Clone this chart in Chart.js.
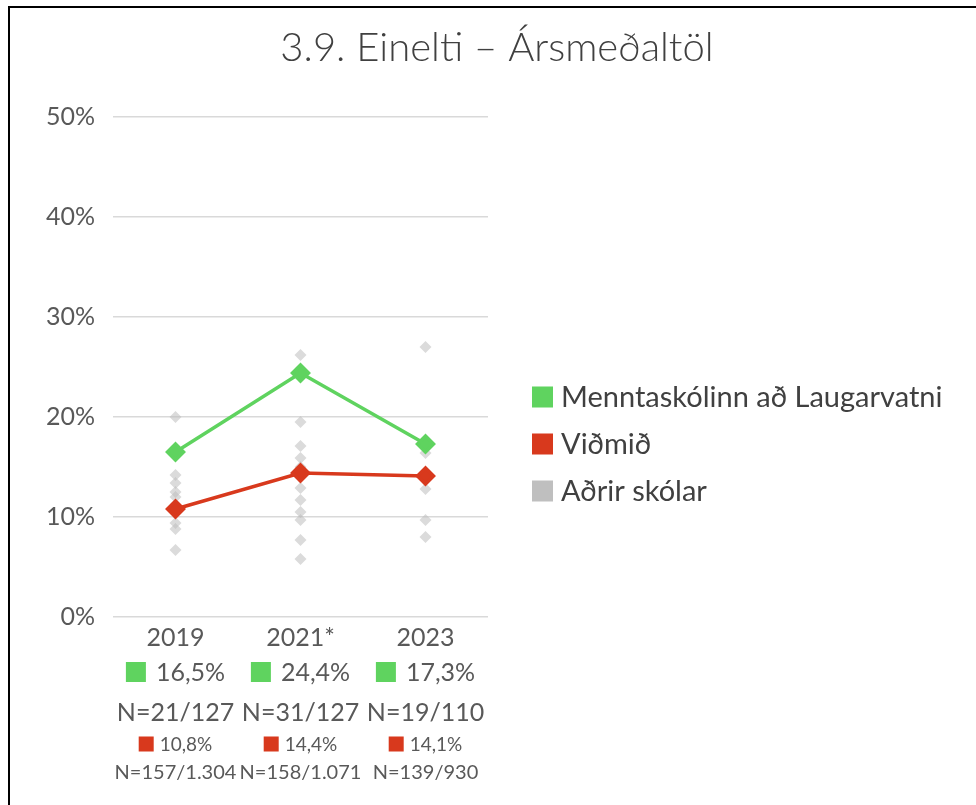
<!DOCTYPE html>
<html>
<head>
<meta charset="utf-8">
<script src="https://cdn.jsdelivr.net/npm/chart.js@4.4.1/dist/chart.umd.min.js"></script>
<style>
    body { margin: 0; background: #fff; }
    #frame {
        position: absolute; left: 8px; top: 6px; width: 968px; height: 799px;
        border-left: 2px solid #000; border-top: 2px solid #000;
    }
    #chart { position: absolute; left: 10px; top: 8px; }
</style>
</head>
<body>
<div id="frame"></div>
<canvas id="chart" width="966" height="797"></canvas>
<script>
// ---------------- DATA ----------------
const years = ["2019", "2021*", "2023"];
const schoolValues = [16.5, 24.4, 17.3];
const benchmarkValues = [10.8, 14.4, 14.1];
const others2019 = [20.0, 14.2, 13.4, 12.5, 12.0, 9.4, 8.8, 6.7];
const others2021 = [26.2, 19.5, 17.1, 15.9, 15.0, 12.9, 11.7, 10.5, 9.7, 7.7, 5.8];
const others2023 = [27.0, 16.4, 12.8, 9.7, 8.0];
const schoolLabels = ["16,5%", "24,4%", "17,3%"];
const schoolN = ["N=21/127", "N=31/127", "N=19/110"];
const benchmarkLabels = ["10,8%", "14,4%", "14,1%"];
const benchmarkN = ["N=157/1.304", "N=158/1.071", "N=139/930"];
const yTicks = [0, 10, 20, 30, 40, 50];

const GREEN = "#5fd35f";
const RED = "#d8391d";
const GRAY = "#bfbfbf";
const TEXT = "#595959";
const FONT = "Lato, 'Open Sans', sans-serif";

const otherPoints = [];
[others2019, others2021, others2023].forEach((list, i) => {
    list.forEach(v => otherPoints.push({ x: years[i], y: v }));
});

// ---------------- EXTRA ROWS UNDER X AXIS + LEGEND ----------------
const extrasPlugin = {
    id: "extras",
    afterDraw(chart) {
        const ctx = chart.ctx;
        const xs = chart.scales.x;
        const area = chart.chartArea;
        ctx.save();
        ctx.textBaseline = "middle";
        ctx.fillStyle = TEXT;

        function swatchRow(text, cx, y, color, box, gap, size) {
            ctx.font = size + "px " + FONT;
            const w = box + gap + ctx.measureText(text).width;
            const left = cx - w / 2;
            ctx.fillStyle = color;
            ctx.fillRect(left, y - box / 2, box, box);
            ctx.fillStyle = TEXT;
            ctx.textAlign = "left";
            ctx.fillText(text, left + box + gap, y + 1);
        }

        years.forEach((y, i) => {
            const cx = xs.getPixelForValue(i);
            swatchRow(schoolLabels[i], cx, area.bottom + 55, GREEN, 20, 10, 25);
            ctx.font = "25px " + FONT;
            ctx.textAlign = "center";
            ctx.fillText(schoolN[i], cx, area.bottom + 96);
            swatchRow(benchmarkLabels[i], cx, area.bottom + 127, RED, 15, 6, 19);
            ctx.font = "20px " + FONT;
            ctx.textAlign = "center";
            ctx.fillText(benchmarkN[i], cx, area.bottom + 156);
        });

        // legend
        const lx = area.right + 44;
        const ly = [area.top + 280, area.top + 327, area.top + 374];
        ctx.font = "29px " + FONT;
        ctx.textAlign = "left";
        chart.data.datasets.forEach((ds, i) => {
            ctx.fillStyle = ds.legendColor;
            ctx.fillRect(lx, ly[i] - 10.5, 21, 21);
            ctx.fillStyle = "#404040";
            ctx.fillText(ds.label, lx + 29, ly[i] + 1);
        });
        ctx.restore();
    }
};

new Chart(document.getElementById("chart"), {
    type: "line",
    data: {
        labels: years,
        datasets: [{
            label: "Menntaskólinn að Laugarvatni",
            data: schoolValues,
            borderColor: GREEN,
            backgroundColor: GREEN,
            legendColor: GREEN,
            borderWidth: 3.5,
            pointStyle: "rectRot",
            pointRadius: 8,
            order: 1
        }, {
            label: "Viðmið",
            data: benchmarkValues,
            borderColor: RED,
            backgroundColor: RED,
            legendColor: RED,
            borderWidth: 3.5,
            pointStyle: "rectRot",
            pointRadius: 8,
            order: 2
        }, {
            label: "Aðrir skólar",
            data: otherPoints,
            showLine: false,
            backgroundColor: "rgba(190,190,190,0.55)",
            borderWidth: 0,
            legendColor: GRAY,
            pointStyle: "rectRot",
            pointRadius: 6,
            order: 3
        }]
    },
    options: {
        responsive: false,
        animation: false,
        devicePixelRatio: 1,
        layout: { padding: { left: 8 } },
        plugins: {
            legend: { display: false },
            tooltip: { enabled: false },
            title: {
                display: true,
                text: "3.9. Einelti – Ársmeðaltöl",
                color: "#404040",
                font: { family: FONT, size: 40, weight: "300" },
                padding: { top: 16, bottom: 45 }
            }
        },
        scales: {
            x: {
                offset: true,
                grid: { display: false },
                border: { display: false },
                ticks: { color: TEXT, font: { family: FONT, size: 25 }, padding: -2 },
                afterFit(scale) { scale.height = 188; }
            },
            y: {
                min: 0,
                max: 50,
                afterBuildTicks(scale) { scale.ticks = yTicks.map(v => ({ value: v })); },
                grid: { color: "#d9d9d9", lineWidth: 1.5, drawTicks: false },
                border: { display: false },
                ticks: {
                    color: TEXT,
                    font: { family: FONT, size: 25 },
                    padding: 18,
                    callback: v => v + "%"
                },
                afterFit(scale) { scale.width = 95; }
            },
            side: {
                type: "linear",
                position: "right",
                grid: { display: false },
                border: { display: false },
                ticks: { display: false },
                afterFit(scale) { scale.width = 488; }
            }
        }
    },
    plugins: [extrasPlugin]
});
</script>
</body>
</html>
